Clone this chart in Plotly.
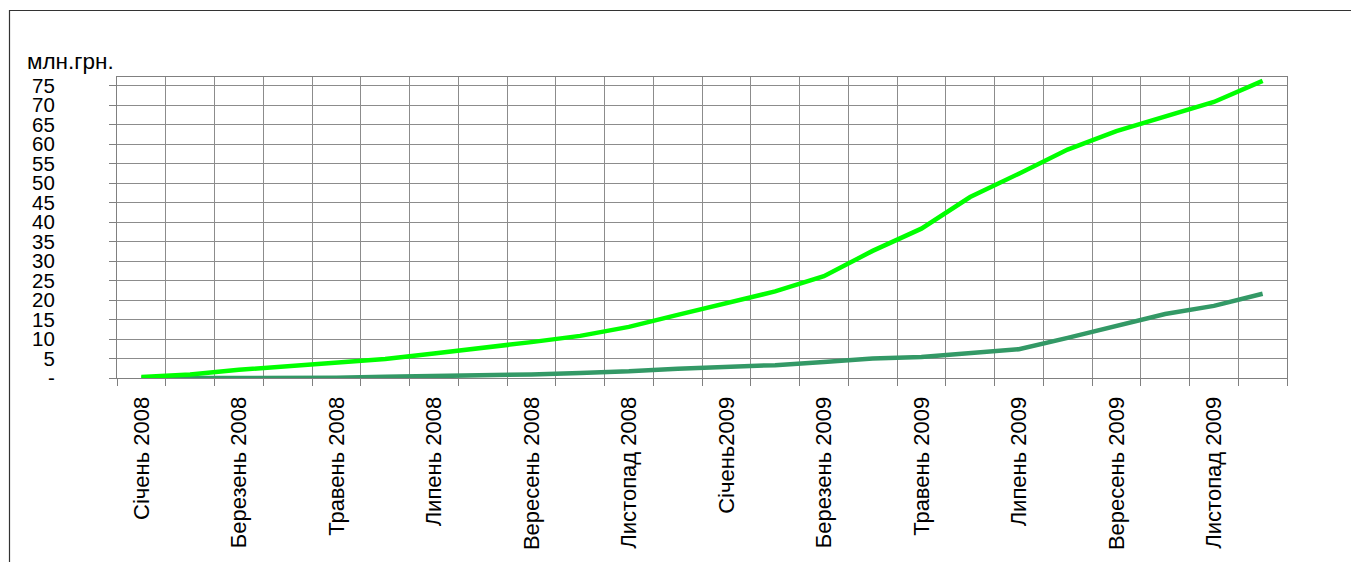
import plotly.graph_objects as go

# ---- data ----
months = [
    "Січень 2008", "Лютий 2008", "Березень 2008", "Квітень 2008", "Травень 2008", "Червень 2008",
    "Липень 2008", "Серпень 2008", "Вересень 2008", "Жовтень 2008", "Листопад 2008", "Грудень 2008",
    "Січень2009", "Лютий 2009", "Березень 2009", "Квітень 2009", "Травень 2009", "Червень 2009",
    "Липень 2009", "Серпень 2009", "Вересень 2009", "Жовтень 2009", "Листопад 2009", "Грудень 2009",
]
shown_labels = [
    "Січень 2008", "Березень 2008", "Травень 2008", "Липень 2008", "Вересень 2008", "Листопад 2008",
    "Січень2009", "Березень 2009", "Травень 2009", "Липень 2009", "Вересень 2009", "Листопад 2009",
]
series_light = [0.25, 0.9, 2.1, 3.0, 3.9, 4.9, 6.3, 7.7, 9.2, 10.8, 13.1, 16.2,
                19.1, 22.2, 26.1, 32.6, 38.3, 46.4, 52.4, 58.6, 63.3, 66.9, 70.8, 76.2]
series_dark = [0.0, 0.0, 0.0, 0.0, 0.05, 0.3, 0.45, 0.65, 0.9, 1.3, 1.7, 2.4,
               2.9, 3.3, 4.1, 5.0, 5.4, 6.3, 7.4, 10.3, 13.4, 16.4, 18.5, 21.6]
y_tick_values = [0, 5, 10, 15, 20, 25, 30, 35, 40, 45, 50, 55, 60, 65, 70, 75]
y_tick_text = ["-", "5", "10", "15", "20", "25", "30", "35", "40", "45", "50", "55", "60", "65", "70", "75"]
unit_label = "млн.грн."

# ---- layout constants (page body has an 8px margin) ----
OFF = 8
W, H = 1359 - 2 * OFF, 570 - 2 * OFF
L, T = 117 - OFF, 77 - OFF
R = W - (1287 - OFF)
B = H - (378 - OFF)
PW, PH = W - L - R, H - T - B
FONT = "Liberation Sans, Arial, sans-serif"
GRID = "#8c8c8c"

idx = list(range(len(months)))
label_pos = [months.index(lbl) for lbl in shown_labels]
boundaries = [i - 0.5 for i in range(len(months) + 1)]

fig = go.Figure()
fig.add_trace(go.Scatter(x=idx, y=series_dark, mode="lines", name="dark",
                         line=dict(color="#339966", width=4.5), showlegend=False,
                         hovertext=months))
fig.add_trace(go.Scatter(x=idx, y=series_light, mode="lines", name="light",
                         line=dict(color="#00FF00", width=4.5), showlegend=False,
                         hovertext=months))

fig.update_layout(
    width=W, height=H,
    autosize=False,
    margin=dict(l=L, r=R, t=T, b=B, pad=0, autoexpand=False),
    paper_bgcolor="white", plot_bgcolor="white",
    font=dict(family=FONT, color="black"),
    xaxis=dict(
        range=[-0.5, len(months) - 0.5], automargin=False,
        tickmode="array", tickvals=label_pos, ticktext=shown_labels,
        tickangle=-90, tickfont=dict(size=22, family=FONT, color="black"),
        ticks="", showgrid=False, zeroline=False,
        showline=True, linecolor="#808080", linewidth=1, mirror=True,
        ticklabelstandoff=9,
        minor=dict(tickmode="array", tickvals=boundaries, showgrid=True,
                   gridcolor=GRID, gridwidth=1, ticks="outside", ticklen=7,
                   tickcolor="#808080", tickwidth=1),
    ),
    yaxis=dict(
        range=[0, 77.2], automargin=False,
        tickmode="array", tickvals=y_tick_values, ticktext=y_tick_text,
        tickfont=dict(size=20.5, family=FONT, color="black"),
        showgrid=True, gridcolor=GRID, gridwidth=1, zeroline=False,
        ticks="outside", ticklen=7, tickcolor="#808080",
        showline=True, linecolor="#808080", linewidth=1, mirror=True,
        ticklabelstandoff=50,
    ),
)

# unit label
fig.add_annotation(text=unit_label, xref="paper", yref="paper",
                   x=(25 - OFF - L) / PW, y=1 - (61 - OFF - T) / PH,
                   xanchor="left", yanchor="middle", showarrow=False,
                   font=dict(size=22.5, family=FONT, color="black"))

# outer chart border (only top and left visible)
fig.add_shape(type="rect", xref="paper", yref="paper",
              x0=(9.5 - OFF - L) / PW, x1=(W + 20 - L) / PW,
              y0=1 - (H + 20 - T) / PH, y1=1 - (10.5 - OFF - T) / PH,
              line=dict(color="#333333", width=1.2), fillcolor="rgba(0,0,0,0)",
              layer="below")

fig.write_html("out.html")
